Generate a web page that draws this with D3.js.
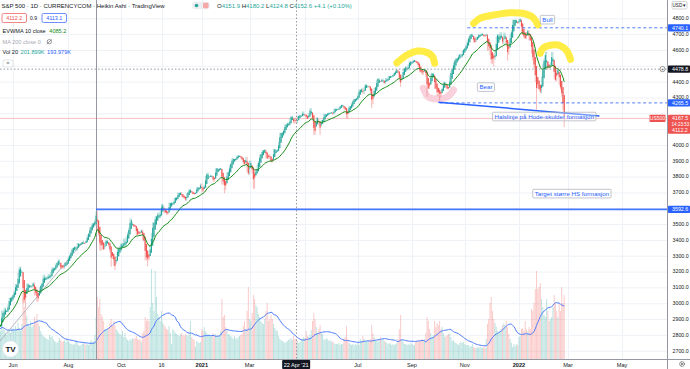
<!DOCTYPE html>
<html><head><meta charset="utf-8">
<script src="https://cdn.jsdelivr.net/npm/d3@7"></script>
<style>body{margin:0;background:#fff;overflow:hidden}svg{display:block;font-family:"Liberation Sans",Arial,sans-serif}</style>
</head><body><svg id="c" width="690" height="369"></svg>
<script>
// ---------------- DATA ----------------
const startDate = "2020-05-14";
const holidays = ["2020-05-25","2020-07-03","2020-09-07","2020-11-26","2020-12-25","2021-01-01","2021-01-18","2021-02-15","2021-04-02","2021-05-31","2021-07-05","2021-09-06","2021-11-25","2021-12-24","2022-01-17","2022-02-21","2022-04-15"];
// daily closes, May 14 2020 .. Feb 24 2022 (one row per month)
const closes = [
2852,2863,2954,2922,2971,2949,2955,2991,3036,3030,3044,
3056,3081,3122,3112,3194,3232,3207,3190,3002,3041,3067,3125,3113,3115,3098,3118,3131,3050,3084,3009,3053,3100,
3116,3130,3180,3145,3170,3152,3185,3155,3197,3227,3216,3225,3251,3258,3277,3236,3216,3239,3218,3258,3246,3271,
3295,3306,3328,3349,3351,3360,3333,3380,3373,3373,3382,3389,3375,3385,3397,3431,3443,3479,3485,3508,3500,
3527,3580,3455,3427,3332,3399,3339,3341,3384,3401,3385,3357,3320,3281,3316,3237,3247,3298,3351,3335,3363,
3381,3348,3409,3361,3419,3447,3477,3535,3512,3489,3483,3484,3427,3443,3436,3453,3465,3401,3391,3271,3310,3270,
3310,3370,3443,3510,3509,3550,3546,3573,3537,3585,3627,3610,3568,3582,3558,3578,3636,3630,3638,3622,
3662,3669,3666,3699,3692,3702,3673,3668,3663,3647,3695,3702,3722,3709,3695,3687,3690,3703,3735,3727,3732,3756,
3701,3726,3748,3804,3825,3799,3801,3810,3795,3768,3798,3852,3853,3841,3855,3849,3750,3787,3714,
3774,3826,3830,3871,3886,3915,3911,3910,3916,3934,3932,3931,3913,3906,3876,3881,3925,3829,3811,
3901,3870,3820,3768,3842,3821,3875,3898,3939,3943,3968,3962,3974,3915,3913,3940,3910,3889,3909,3974,3971,3959,3973,
4020,4077,4074,4080,4097,4129,4128,4142,4124,4170,4185,4163,4135,4173,4135,4180,4187,4187,4184,4211,4181,
4192,4165,4168,4201,4233,4189,4152,4063,4113,4174,4163,4128,4116,4160,4156,4197,4188,4196,4200,4204,
4202,4208,4192,4229,4227,4228,4220,4239,4247,4255,4246,4224,4222,4166,4224,4246,4242,4266,4281,4291,4291,4297,
4320,4352,4343,4358,4320,4369,4385,4369,4374,4360,4327,4258,4323,4359,4368,4412,4422,4401,4400,4419,4395,
4387,4423,4403,4430,4437,4432,4436,4448,4460,4468,4479,4449,4400,4406,4442,4480,4486,4496,4470,4509,4529,4523,
4524,4537,4535,4520,4514,4493,4459,4469,4443,4481,4474,4433,4358,4354,4396,4449,4455,4443,4353,4360,4308,
4357,4300,4345,4363,4399,4391,4361,4351,4364,4438,4471,4486,4520,4537,4549,4545,4567,4575,4551,4597,4605,
4614,4631,4660,4680,4697,4702,4685,4647,4650,4683,4682,4701,4689,4705,4698,4683,4691,4701,4595,4655,4567,
4513,4577,4538,4592,4686,4701,4668,4712,4669,4635,4709,4669,4621,4568,4649,4697,4725,4791,4786,4793,4778,4766,
4797,4793,4701,4696,4677,4670,4713,4726,4659,4663,4577,4533,4483,4398,4410,4357,4350,4326,4432,4516,
4546,4589,4477,4501,4484,4522,4587,4504,4419,4402,4472,4475,4380,4349,4305,4226,4167.5
];
// daily volume in thousands
const volumes = [
320,280,350,300,290,260,240,270,300,260,310,
300,280,330,290,360,310,280,350,620,520,480,430,350,330,380,320,340,420,380,450,360,330,
280,250,230,220,210,200,190,240,220,230,200,180,170,160,180,210,190,170,180,190,170,200,
180,160,150,150,140,150,190,170,140,130,140,150,170,160,140,150,140,160,190,170,180,
240,420,620,520,600,450,420,380,300,290,300,310,360,400,330,380,340,300,280,260,250,
240,280,220,260,210,190,180,200,190,210,200,210,230,200,190,200,170,260,280,420,380,400,
380,520,900,560,480,880,620,450,420,380,480,360,340,320,300,290,330,260,150,300,
280,260,250,240,230,250,260,240,230,250,240,230,260,380,220,200,190,120,180,170,160,170,
300,280,320,280,260,240,250,230,240,260,230,250,220,230,240,280,600,420,440,
320,280,250,240,230,220,200,230,210,200,220,230,240,250,330,380,300,480,720,
400,380,460,640,600,540,520,450,420,380,360,350,400,480,560,380,400,440,400,350,310,290,280,
230,200,190,180,170,160,170,180,190,200,210,190,230,200,201.899,180,160,170,190,200,220,
210,280,230,220,240,290,380,460,400,320,260,300,340,260,250,200,190,210,200,180,
190,170,180,160,150,150,150,160,140,150,150,200,220,330,200,160,150,140,150,140,150,140,
160,140,200,180,230,200,170,180,190,180,200,340,260,220,190,180,170,200,220,190,200,
180,170,160,150,160,150,140,150,140,150,160,200,300,440,190,170,150,150,140,150,140,160,
150,140,140,170,180,170,190,180,200,190,200,260,420,380,300,260,220,240,380,320,360,
340,380,300,320,260,220,230,240,250,260,220,180,190,170,160,150,140,160,170,160,170,
150,140,140,140,120,130,150,120,110,110,120,110,120,120,110,130,110,200,350,400,560,
620,480,400,360,320,280,260,280,300,340,360,340,380,320,250,200,160,120,150,130,150,140,
220,230,300,310,280,380,300,280,320,300,500,480,560,700,880,700,720,760,600,520,
440,420,600,480,380,400,420,520,640,560,480,420,560,480,720,560,640
];
const intradayLows = [
["2020-06-15",2965],["2020-09-21",3230],["2020-09-24",3209],["2020-10-30",3233],
["2021-01-29",3694],["2021-03-04",3723],["2021-03-05",3724],["2021-05-19",4062],
["2021-07-19",4233],["2021-08-19",4367],["2021-09-20",4305],["2021-10-04",4279],
["2021-12-03",4495],["2021-12-20",4531],["2022-01-24",4222],["2022-02-23",4221],["2022-02-24",4112.2]
];
const priceTicks = [2700,2800,2900,3000,3100,3200,3300,3400,3500,3600,3700,3800,3900,4000,4100,4200,4300,4400,4500,4600,4700,4800];
const priceTickLabels = ["2700.0","2800.0","2900.0","3000.0","3100.0","3200.0","3300.0","3400.0","3500.0","3600.0","3700.0","3800.0","3900.0","4000.0","4100.0","4200.0","4300.0","4400.0","4500.0","4600.0","4700.0","4800.0"];
const timeTickDates = ["2020-06-01","2020-08-03","2020-10-01","2020-11-16","2021-01-04","2021-03-01","2021-05-03","2021-07-01","2021-09-01","2021-11-01","2022-01-03","2022-03-01","2022-05-02"];
const timeTickLabels = ["Jun","Aug","Oct","16","2021","Mar","May","Jul","Sep","Nov","2022","Mar","May"];
// drawings (date, price)
const arcBull1 = [["2021-08-16",4518],["2021-08-26",4568],["2021-09-08",4593],["2021-09-16",4589],["2021-09-24",4562],["2021-09-28",4516]];
const arcBull2 = [["2021-11-10",4768],["2021-11-17",4800],["2021-12-03",4821],["2021-12-22",4835],["2022-01-06",4832],["2022-01-19",4806],["2022-01-25",4758]];
const arcBull3 = [["2022-01-27",4579],["2022-01-31",4610],["2022-02-09",4631],["2022-02-18",4627],["2022-02-28",4595],["2022-03-03",4541]];
const pinkArc = [["2021-09-15",4359],["2021-09-21",4303],["2021-09-30",4290],["2021-10-12",4303],["2021-10-19",4347]];
const neckline = [["2021-10-01",4269.4],["2022-04-05",4183]];
const trendline = [["2020-05-14",2755],["2020-08-19",3390]];
const levelLines = [{from:"2021-11-03",price:4740.1,dash:true},{from:"2021-10-04",price:4265.5,dash:true},{from:"2020-09-02",price:3592.6,dash:false}];
const vLineDate = "2020-09-02";
const crossDate = "2021-04-22", crossPrice = 4478.8;
const lastPrice = 4167.5;
const noteLabels = [
 {date:"2022-01-27",price:4792,text:"Bull"},
 {date:"2021-11-15",price:4366,text:"Bear"},
 {date:"2021-12-02",price:4180,text:"Halslinje på Hode-skulder formasjon"},
 {date:"2022-01-19",price:3693,text:"Target større HS formasjon"}
];

// ---------------- SETUP ----------------
const svg = d3.select("#c");
const W=690,H=369, plotR=667, plotB=359;
const UP="#26a69a", DN="#ef5350", BLUE="#2962ff";

const hol = new Set(holidays);
const dates=[]; {let d=new Date(startDate+"T00:00:00Z");
 while(dates.length < closes.length+80){const wd=d.getUTCDay(),s=d.toISOString().slice(0,10);
  if(wd!==0&&wd!==6&&!hol.has(s)) dates.push(s); d.setUTCDate(d.getUTCDate()+1);}}
const di = s => dates.indexOf(s);

const x = d3.scaleLinear().domain([0,100]).range([-0.84,125.01]);
const y = d3.scaleLinear().domain([2700,4800]).range([350.7,18.3]);
const yv = d3.scaleLinear().domain([0,1000]).range([plotB,plotB-100]);
const px = p => [x(di(p[0])), y(p[1])];

// Heikin Ashi
const lowMap = {}; intradayLows.forEach(([d,v])=>lowMap[di(d)]=v);
const ha=[];
closes.forEach((C,k)=>{
  const O = k?closes[k-1]:C;
  const Hh=Math.max(O,C); let L=Math.min(O,C);
  if(lowMap[k]!=null) L=Math.min(L,lowMap[k]);
  const hc=(O+Hh+L+C)/4;
  const ho=k?(ha[k-1].o+ha[k-1].c)/2:(O+C)/2;
  ha.push({k,o:ho,c:hc,h:Math.max(Hh,ho,hc),l:Math.min(L,ho,hc)});
});
// EVWMA 10 on HA close
const ev=[];
ha.forEach((b,k)=>{const v=volumes[k]; const nb=d3.sum(volumes.slice(Math.max(0,k-9),k+1));
  const prev=k?ev[k-1]:b.c; ev.push(prev*(nb-v)/nb + v*b.c/nb);});
// Volume SMA 20
const vma = volumes.map((v,k)=>d3.mean(volumes.slice(Math.max(0,k-19),k+1)));

// ---------------- DRAW ----------------
svg.append("rect").attr("width",W).attr("height",H).attr("fill","#fff");
svg.append("defs").append("clipPath").attr("id","pc").append("rect").attr("width",plotR).attr("height",plotB);
const g = svg.append("g").attr("clip-path","url(#pc)");

// grid
g.selectAll(".hg").data(priceTicks).join("line").attr("x1",0).attr("x2",plotR)
 .attr("y1",d=>y(d)+0.5).attr("y2",d=>y(d)+0.5).attr("stroke","#eef1f6").attr("stroke-width",1);
g.selectAll(".vg").data(timeTickDates).join("line").attr("y1",0).attr("y2",plotB)
 .attr("x1",d=>Math.round(x(di(d)))+0.5).attr("x2",d=>Math.round(x(di(d)))+0.5).attr("stroke","#eef1f6");

// volume
g.selectAll(".vb").data(ha).join("rect")
 .attr("x",d=>x(d.k)-0.5).attr("width",1)
 .attr("y",d=>yv(volumes[d.k])).attr("height",d=>plotB-yv(volumes[d.k]))
 .attr("fill",d=>d.c>=d.o?UP:DN).attr("opacity",0.3);
g.append("path").datum(vma).attr("fill","none").attr("stroke","#4d7cfe").attr("stroke-width",1)
 .attr("d",d3.line().x((d,k)=>x(k)).y(d=>yv(d)));

// vertical drawing line & trendline
g.append("line").attr("x1",Math.round(x(di(vLineDate)))+0.5).attr("x2",Math.round(x(di(vLineDate)))+0.5)
 .attr("y1",0).attr("y2",plotB).attr("stroke","#9598a1").attr("stroke-width",1);
g.append("path").datum(trendline).attr("fill","none").attr("stroke","#a3a6af").attr("stroke-width",0.8)
 .attr("d",d3.line().x(d=>px(d)[0]).y(d=>px(d)[1]));

// last price line
g.append("line").attr("x1",0).attr("x2",plotR).attr("y1",y(lastPrice)).attr("y2",y(lastPrice))
 .attr("stroke",DN).attr("stroke-opacity",0.35).attr("stroke-width",1);

// pink highlight
g.append("path").datum(pinkArc).attr("fill","none").attr("stroke","#f8c6d4").attr("stroke-opacity",0.8)
 .attr("stroke-width",7).attr("stroke-linecap","round")
 .attr("d",d3.line().x(d=>px(d)[0]).y(d=>px(d)[1]).curve(d3.curveCatmullRom));

// candles
g.selectAll(".wk").data(ha).join("line")
 .attr("x1",d=>x(d.k)).attr("x2",d=>x(d.k)).attr("y1",d=>y(d.h)).attr("y2",d=>y(d.l))
 .attr("stroke",d=>d.c>=d.o?UP:DN).attr("stroke-opacity",0.4).attr("stroke-width",1);
g.selectAll(".bd").data(ha).join("rect")
 .attr("x",d=>x(d.k)-0.55).attr("width",1.1)
 .attr("y",d=>y(Math.max(d.o,d.c))).attr("height",d=>Math.max(0.7,Math.abs(y(d.o)-y(d.c))))
 .attr("fill",d=>d.c>=d.o?UP:DN);

// EVWMA
g.append("path").datum(ev).attr("fill","none").attr("stroke","#138a13").attr("stroke-width",1)
 .attr("d",d3.line().x((d,k)=>x(k)).y(d=>y(d)));

// level lines
levelLines.forEach(l=>{
  g.append("line").attr("x1",x(di(l.from))).attr("x2",plotR).attr("y1",y(l.price)).attr("y2",y(l.price))
   .attr("stroke",BLUE).attr("stroke-width",l.dash?1:1.6).attr("stroke-dasharray",l.dash?"3,2.5":null)
   .attr("opacity",l.dash?0.8:0.85);
});
// neckline
g.append("path").datum(neckline).attr("fill","none").attr("stroke",BLUE).attr("stroke-width",1.5)
 .attr("d",d3.line().x(d=>px(d)[0]).y(d=>px(d)[1]));

// yellow arcs
[arcBull1,arcBull2,arcBull3].forEach(a=>{
  g.append("path").datum(a).attr("fill","none").attr("stroke","#ffeb3b").attr("stroke-width",7)
   .attr("stroke-linecap","round").attr("opacity",0.95)
   .attr("d",d3.line().x(d=>px(d)[0]).y(d=>px(d)[1]).curve(d3.curveCatmullRom));
});

// note labels
noteLabels.forEach(n=>{
  const [lx,ly]=[x(di(n.date)),y(n.price)];
  const grp=g.append("g");
  const r=grp.append("rect");
  const t=grp.append("text").attr("x",lx+2).attr("y",ly+2.1).attr("font-size",6.2).attr("fill",BLUE).text(n.text);
  const w=t.node().getComputedTextLength();
  r.attr("x",lx).attr("y",ly-4.2).attr("width",w+4).attr("height",8.6)
   .attr("fill","#fff").attr("fill-opacity",0.35).attr("stroke","#a9adb8").attr("stroke-width",0.7).attr("rx",1);
});

// crosshair
const cx=Math.round(x(di(crossDate)))+0.5, cy=y(crossPrice);
g.append("line").attr("x1",cx).attr("x2",cx).attr("y1",0).attr("y2",plotB).attr("stroke","#8c8f99").attr("stroke-dasharray","1.5,2").attr("stroke-width",0.9);
g.append("line").attr("x1",0).attr("x2",plotR).attr("y1",cy).attr("y2",cy).attr("stroke","#8c8f99").attr("stroke-dasharray","1.5,2").attr("stroke-width",0.9);

// ---------------- AXES ----------------
svg.append("line").attr("x1",plotR+0.5).attr("x2",plotR+0.5).attr("y1",0).attr("y2",H).attr("stroke","#9598a1").attr("stroke-width",1);
svg.append("line").attr("x1",0).attr("x2",W).attr("y1",plotB+0.5).attr("y2",plotB+0.5).attr("stroke","#9598a1").attr("stroke-width",1);

// tags on the price axis hide tick labels lying under them
const tagPrices = [4740.1, crossPrice, 4265.5, 3592.6];
const lastBlock = [y(lastPrice)-3.6, y(lastPrice)+15.4];
const hidden = p => tagPrices.some(t=>Math.abs(y(t)-y(p))<5) || (y(p)>lastBlock[0]-3 && y(p)<lastBlock[1]+3);
const crossX = x(di(crossDate));
const ax = svg.append("g").attr("font-size",5.3).attr("fill","#131722");
ax.selectAll(".pt").data(priceTicks.filter(p=>!hidden(p))).join("text").attr("x",672.5).attr("y",d=>y(d)+1.9)
 .text(d=>priceTickLabels[priceTicks.indexOf(d)]);
ax.selectAll(".tt").data(timeTickDates.filter(d=>Math.abs(x(di(d))-crossX)>20)).join("text").attr("text-anchor","middle")
 .attr("x",d=>x(di(d))).attr("y",366.5).attr("font-size",5.6)
 .attr("font-weight",d=>/^20/.test(timeTickLabels[timeTickDates.indexOf(d)])?"bold":null)
 .text(d=>timeTickLabels[timeTickDates.indexOf(d)]);

function axisTag(price,bg,txt){
  const yy=y(price);
  svg.append("rect").attr("x",668).attr("y",yy-3.6).attr("width",22).attr("height",7.2).attr("fill",bg).attr("rx",0.8);
  svg.append("text").attr("x",672).attr("y",yy+1.9).attr("font-size",5.3).attr("fill","#fff").text(txt);
}
axisTag(4740.1,BLUE,"4740.1");
axisTag(crossPrice,"#131722","4478.8");
axisTag(4265.5,BLUE,"4265.5");
axisTag(3592.6,BLUE,"3592.6");
// last price block
{const yy=y(lastPrice);
 svg.append("rect").attr("x",668).attr("y",yy-3.6).attr("width",22).attr("height",19).attr("fill",DN).attr("rx",0.8);
 svg.append("text").attr("x",672).attr("y",yy+1.9).attr("font-size",5.3).attr("fill","#fff").text("4167.5");
 svg.append("text").attr("x",671.5).attr("y",yy+7.7).attr("font-size",4.6).attr("fill","#fff").text("14:23:53");
 svg.append("text").attr("x",672).attr("y",yy+14).attr("font-size",5.3).attr("fill","#fff").text("4112.2");
 svg.append("rect").attr("x",649.5).attr("y",yy-3.6).attr("width",16).attr("height",7.2).attr("fill",DN).attr("rx",0.8);
 svg.append("text").attr("x",657.5).attr("y",yy+1.9).attr("text-anchor","middle").attr("font-size",5).attr("fill","#fff").text("US500");
}
// add-alert icon next to crosshair tag
svg.append("circle").attr("cx",662.5).attr("cy",cy).attr("r",2.6).attr("fill","#fff").attr("stroke","#555").attr("stroke-width",0.6);
svg.append("text").attr("x",662.5).attr("y",cy+1.6).attr("text-anchor","middle").attr("font-size",4.5).attr("fill","#333").text("+");
// crosshair time tag
{svg.append("rect").attr("x",crossX-14).attr("y",360).attr("width",28).attr("height",9).attr("fill","#131722").attr("rx",0.8);
 svg.append("text").attr("x",crossX).attr("y",366.6).attr("text-anchor","middle").attr("font-size",5.6).attr("fill","#fff").text("22 Apr '21");}
// USD button
svg.append("rect").attr("x",672).attr("y",1.5).attr("width",15).attr("height",7.5).attr("fill","#fff").attr("stroke","#b2b5be").attr("stroke-width",0.6).attr("rx",1.5);
svg.append("text").attr("x",679.5).attr("y",6.9).attr("text-anchor","middle").attr("font-size",4.6).attr("fill","#131722").text("USD ▾");
// gear
svg.append("circle").attr("cx",682).attr("cy",364).attr("r",2.4).attr("fill","none").attr("stroke","#333").attr("stroke-width",0.9).attr("stroke-dasharray","1,0.6");
svg.append("circle").attr("cx",682).attr("cy",364).attr("r",0.9).attr("fill","none").attr("stroke","#333").attr("stroke-width",0.6);

// TV logo
svg.append("circle").attr("cx",10.5).attr("cy",349).attr("r",8).attr("fill","#fff").attr("stroke","#e0e3eb").attr("stroke-width",0.6);
svg.append("text").attr("x",10.5).attr("y",351.8).attr("text-anchor","middle").attr("font-size",8).attr("font-weight","bold").attr("fill","#131722").text("TV");

// ---------------- LEGEND ----------------
const lg = svg.append("g").attr("font-size",6);
lg.append("text").attr("x",1.5).attr("y",7.8).attr("fill","#131722").text("S&P 500 · 1D · CURRENCYCOM · Heikin Ashi · TradingView");
svg.append("rect").attr("x",192).attr("y",1.8).attr("width",18).attr("height",7.5).attr("rx",3.7).attr("fill","#eceef2");
svg.append("circle").attr("cx",196.5).attr("cy",5.5).attr("r",1.8).attr("fill",UP);
svg.append("rect").attr("x",203).attr("y",2.8).attr("width",5.5).attr("height",5.5).attr("rx",1).attr("fill","#f7a9a8");
{const t=lg.append("text").attr("x",217).attr("y",7.8);
 [["O","#131722"],["4151.9",UP],[" H","#131722"],["4180.2",UP],[" L","#131722"],["4124.8",UP],[" C","#131722"],["4152.6",UP],[" +4.1 (+0.10%)",UP]]
 .forEach(([s,c])=>t.append("tspan").attr("fill",c).text(s));}
// bid/ask
svg.append("rect").attr("x",2).attr("y",13.5).attr("width",24.5).attr("height",9).attr("rx",1.5).attr("fill","#fff").attr("stroke",DN).attr("stroke-width",0.7);
svg.append("text").attr("x",14.2).attr("y",20).attr("text-anchor","middle").attr("font-size",5.4).attr("fill",DN).text("4112.2");
svg.append("text").attr("x",33.5).attr("y",20).attr("text-anchor","middle").attr("font-size",5).attr("fill","#131722").text("0.9");
svg.append("rect").attr("x",42).attr("y",13.5).attr("width",24.5).attr("height",9).attr("rx",1.5).attr("fill","#fff").attr("stroke",BLUE).attr("stroke-width",0.7);
svg.append("text").attr("x",54.2).attr("y",20).attr("text-anchor","middle").attr("font-size",5.4).attr("fill",BLUE).text("4113.1");
// indicator rows
{const t=lg.append("text").attr("x",2.5).attr("y",33).attr("font-size",5.6);
 t.append("tspan").attr("fill","#131722").text("EVWMA 10 close ");
 t.append("tspan").attr("fill","#138a13").attr("dx",2).text("4085.2");}
lg.append("text").attr("x",2.5).attr("y",43.7).attr("font-size",5.6).attr("fill","#a7aab3").text("MA 200 close 0");
svg.append("circle").attr("cx",49.3).attr("cy",41.7).attr("r",2.2).attr("fill","none").attr("stroke","#555").attr("stroke-width",0.6);
svg.append("line").attr("x1",46.8).attr("x2",51.8).attr("y1",44).attr("y2",39.4).attr("stroke","#555").attr("stroke-width",0.6);
{const t=lg.append("text").attr("x",2.5).attr("y",54.3).attr("font-size",5.6);
 t.append("tspan").attr("fill","#131722").text("Vol 20 ");
 t.append("tspan").attr("fill",UP).attr("dx",1).text("201.899K");
 t.append("tspan").attr("fill",BLUE).attr("dx",2.5).text("193.979K");}
svg.append("rect").attr("x",3).attr("y",60).attr("width",10).attr("height",7).attr("rx",1).attr("fill","#fff").attr("stroke","#d1d4dc").attr("stroke-width",0.6);
svg.append("text").attr("x",8).attr("y",66).attr("text-anchor","middle").attr("font-size",6).attr("fill","#131722").text("^");
</script></body></html>
